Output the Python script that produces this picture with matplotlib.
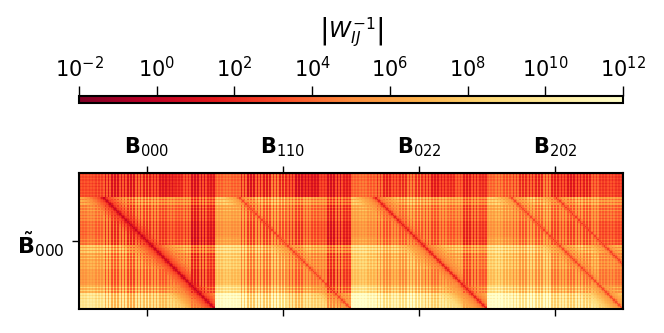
import numpy as np
import matplotlib
matplotlib.use("Agg")
import matplotlib.pyplot as plt
from matplotlib.colors import LogNorm

column_labels = [r"$\mathbf{B}_{000}$", r"$\mathbf{B}_{110}$", r"$\mathbf{B}_{022}$", r"$\mathbf{B}_{202}$"]
row_label = r"$\tilde{\mathbf{B}}_{000}$"
colorbar_label = r"$\left|W_{IJ}^{-1}\right|$"

# log10 magnitude read per 8 px band of the heat map
row_level = [3.0, 2.9, 3.1, 5.4, 4.8, 4.2, 3.8, 3.5, 4.1, 6.4, 6.0, 5.5, 5.1, 4.9, 6.7, 8.4, 8.9]
row_weight = [.35, .35, .35, .6, .6, .6, .6, .6, .7, .7, .8, .8, .8, .8, .9, 1, 1]
row_stripe = [.6, .6, .6, 1.8, 1.4, .8, .6, .6, 1.0, 2.0, 1.6, .9, .4, .4, 1.8, 1.2, .4]

col_level_b1 = [.8, 1.0, .9, -.2, -.4, -.5, -.7, -.5, .2, -.7, -.8, -.7, -.6, -.8, -2.9, -3.1, -2.9]
col_level_b2 = [3.0, 3.1, 3.0, 1.0, .7, .6, .8, 1.0, 1.6, -.4, -.3, .0, .0, -.5, -2.4, -2.6, -2.4]
col_level_b3 = [3.2, 3.2, 2.9, 1.5, 1.4, 1.4, 1.4, 1.6, 2.0, .4, .3, .5, .6, .5, -1.3, -1.4, -1.3]
col_level_b4 = [3.2, 3.2, 3.0, 1.6, 1.7, 1.8, 1.8, 2.0, .6, .4, .5, .4, .7, .8, -.3, -.5, -.6]
col_stripe_b1 = [.8, .8, 1.6, 4.4, 4.2, 4.4, 4.4, 4.2, 4.4, 3.4, 2.2, 1.8, 1.4, 2.5, 3.6, 4.4, 2.0]
col_stripe_b2 = [1.2, 1.0, 1.0, 4.4, 4.4, 4.4, 4.6, 4.4, 4.4, 3.4, 3.6, 2.5, 2.1, 1.4, 3.6, 4.4, 2.0]
col_stripe_b3 = [1.0, 1.0, 1.4, 3.4, 3.4, 2.2, 3.4, 3.4, 4.2, 3.6, 2.9, 2.5, 1.8, 1.8, 3.4, 3.4, 1.4]
col_stripe_b4 = [1.0, 1.8, 2.5, 2.9, 3.6, 3.6, 4.0, 3.6, 3.4, 2.9, 3.4, 3.6, 3.6, 2.2, 1.4, 1.4, 1.0]

# darker patches in the top rows, one value per 8 px column band
top_patch_b1 = [0, .2, .1, .5, .6, .6, .3, .1, .1, .4, .9, 1.1, .5, 0, 0, 0, 0]
top_patch_b2 = [0, 0, 0, .5, .9, .7, .5, 0, .3, .5, 1.0, 1.5, 1.3, .3, .2, .2, 0]
top_patch_b3 = [0, 0, 0, .3, .7, .6, .3, 0, .1, .4, .8, .9, .6, 0, 0, 0, 0]
top_patch_b4 = [0, 0, 0, .1, .4, .8, .5, 0, .4, .7, .8, .9, .5, 0, 0, 0, 0]

# column offset from the diagonal in 8 px bands, log10 floor, first row band
diag_offset = [0, 0, 0, 0, 5.6]
diag_block = [0, 1, 2, 3, 3]
diag_floor = [0.3, 3.0, 1.8, 3.0, 2.8]
diag_start = [3, 3, 3, 3, 3]

CELLS = 5
n = len(row_level)

def stripes(amps):
    a = np.repeat(amps, CELLS)
    return a * (np.arange(a.size) % 2 - .5)

blocks = []
cols = [col_level_b1, col_level_b2, col_level_b3, col_level_b4]
col_st = [col_stripe_b1, col_stripe_b2, col_stripe_b3, col_stripe_b4]
tops = [top_patch_b1, top_patch_b2, top_patch_b3, top_patch_b4]
rl = np.repeat(row_level, CELLS)
rw = np.repeat(row_weight, CELLS)
rs = stripes(row_stripe)
for c, s, t in zip(cols, col_st, tops):
    m = rl[:, None] + rw[:, None] * np.repeat(c, CELLS)[None, :]
    m = m + (rw[:, None] * .3 + .5) * stripes(s)[None, :] + rs[:, None]
    m[:3 * CELLS] -= np.repeat(t, CELLS)[None, :]
    blocks.append(m)
for off, b, fl, st in zip(diag_offset, diag_block, diag_floor, diag_start):
    for i in range(st * CELLS, n * CELLS):
        for j in range(n * CELLS):
            d = abs(j - i - off * CELLS)
            if d < 40:
                line = min(fl + 1.2 * d, fl + 2.0 + 0.3 * d)
                blocks[b][i, j] = min(blocks[b][i, j], line)
matrix = 10.0 ** np.hstack(blocks)

W, H = 664, 333
fig = plt.figure(figsize=(W / 100, H / 100), dpi=100)
ax = fig.add_axes([79 / W, 1 - 309 / H, 544 / W, 136 / H])
norm = LogNorm(1e-2, 1e12)
im = ax.imshow(matrix, cmap="YlOrRd_r", norm=norm, aspect="auto", interpolation="nearest",
               extent=[0, 4, 1, 0])
ax.set_xticks([.5, 1.5, 2.5, 3.5], column_labels, fontsize=15)
ax.set_yticks([.5], [row_label], fontsize=16)
ax.tick_params(top=True, labeltop=True, bottom=True, labelbottom=False, length=5, width=1)
ax.tick_params(axis="x", pad=5)
ax.tick_params(axis="y", pad=5)
for s in ax.spines.values():
    s.set_linewidth(1.5)

cax = fig.add_axes([79 / W, 1 - 103 / H, 544 / W, 7 / H])
cb = fig.colorbar(im, cax=cax, orientation="horizontal")
cb.set_ticks([10.0 ** k for k in range(-2, 13, 2)])
cb.minorticks_off()
cax.tick_params(top=True, labeltop=True, bottom=False, labelbottom=False, labelsize=15, length=7, width=1)
cb.outline.set_linewidth(1.5)
cax.set_title(colorbar_label, fontsize=16, pad=13)
fig.savefig("out.png", dpi=100)
